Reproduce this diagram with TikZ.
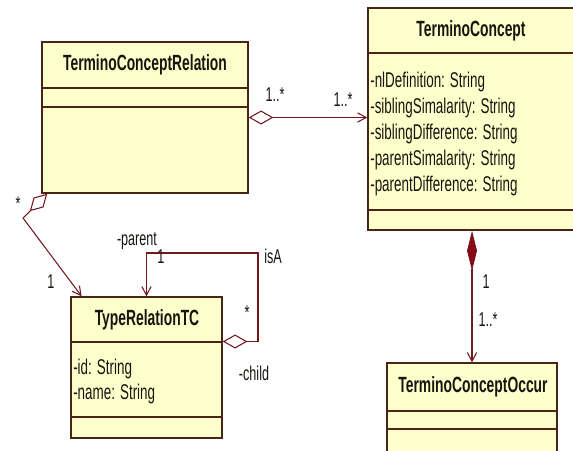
\documentclass[tikz,border=0pt]{standalone}
\usepackage{fontspec}
\setmainfont{Liberation Sans}[FakeStretch=0.63]
\usetikzlibrary{arrows.meta,fit,calc}

\definecolor{umlfill}{RGB}{255,255,204}
\definecolor{umlline}{RGB}{72,36,20}
\definecolor{umlconn}{RGB}{112,26,32}
\definecolor{umltext}{RGB}{25,20,15}
\definecolor{compred}{RGB}{140,10,20}

\begin{document}
\begin{tikzpicture}[
    x=0.75pt, y=-0.75pt,
    cls/.style={rectangle, draw=umlline, fill=umlfill, line width=1.1pt, inner sep=0pt},
    sep/.style={draw=umlline, line width=1.1pt},
    ttl/.style={font=\bfseries\fontsize{16.5}{19}\selectfont, text=umltext, inner sep=0pt},
    attr/.style={anchor=base west, font=\fontsize{16}{19}\selectfont, text=umltext, inner sep=0pt},
    lbl/.style={font=\fontsize{15}{17}\selectfont, text=umltext, inner sep=0pt},
    assoc/.style={draw=umlconn, line width=0.8pt},
    aggnav/.style={{Diamond[fill=white,length=18.5pt,width=10.5pt]}-{Straight Barb[length=6.5pt,width=7pt]}},
    compnav/.style={{Diamond[fill=compred,length=30pt,width=7.5pt]}-{Straight Barb[length=6.5pt,width=7pt]}}
]
    \useasboundingbox (0,0) rectangle (573,450);

    % classes
    \node[cls, fit={(42,42) (248,193)}] (tcr) {};
    \node[ttl] (tcrname) at (145,65) {TerminoConceptRelation};
    \draw[sep] (tcr.west |- 0,88) -- (tcr.east |- 0,88);
    \draw[sep] (tcr.west |- 0,107) -- (tcr.east |- 0,107);

    \node[cls, fit={(368,8) (580,230)}] (tc) {};
    \node[ttl] (tcname) at (471,31) {TerminoConcept};
    \draw[sep] (tc.west |- 0,53) -- (tc.east |- 0,53);
    \draw[sep] (tc.west |- 0,210) -- (tc.east |- 0,210);
    \foreach \a [count=\i] in {-nlDefinition: String, -siblingSimalarity: String,
        -siblingDifference: String, -parentSimalarity: String, -parentDifference: String}
        \node[attr] (tcattr\i) at (370,61.5+26*\i) {\a};

    \node[cls, fit={(71,297) (222,438)}] (trtc) {};
    \node[ttl] (trtcname) at (147,320) {TypeRelationTC};
    \draw[sep] (trtc.west |- 0,342) -- (trtc.east |- 0,342);
    \draw[sep] (trtc.west |- 0,417) -- (trtc.east |- 0,417);
    \node[attr] (trtcid) at (73,374.5) {-id: String};
    \node[attr] (trtcname2) at (73,399.5) {-name: String};

    \node[cls, fit={(387,363) (557,458)}] (tco) {};
    \node[ttl] (tconame) at (473,387) {TerminoConceptOccur};
    \draw[sep] (tco.west |- 0,411) -- (tco.east |- 0,411);
    \draw[sep] (tco.west |- 0,429) -- (tco.east |- 0,429);

    % associations
    \draw[assoc, aggnav] (tcr.east) -- (tcr.east -| tc.west);
    \node[lbl] (m1) at (275,95) {1..*};
    \node[lbl] (m2) at (343,100) {1..*};

    \coordinate (bend1) at (23,218);
    \draw[assoc, aggnav] ([xshift=4.5pt]tcr.south west) -- (bend1) -- ([xshift=8.5pt]trtc.north west);
    \node[lbl] (m3) at (18,204) {*};
    \node[lbl] (m4) at (51,282) {1};

    \coordinate (isa) at (258,253);
    \draw[assoc, aggnav] ([yshift=19.5pt]trtc.east) -| (isa) -| (trtc.north);
    \node[lbl] (rparent) at (137,241) {-parent};
    \node[lbl] (m5) at (161,257) {1};
    \node[lbl] (risa) at (273,256) {isA};
    \node[lbl] (m6) at (247,313) {*};
    \node[lbl] (rchild) at (254,373) {-child};

    \draw[assoc, compnav] (tc.south -| tco.north) -- (tco.north);
    \node[lbl] (m7) at (486,282) {1};
    \node[lbl] (m8) at (488,320) {1..*};
\end{tikzpicture}
\end{document}
